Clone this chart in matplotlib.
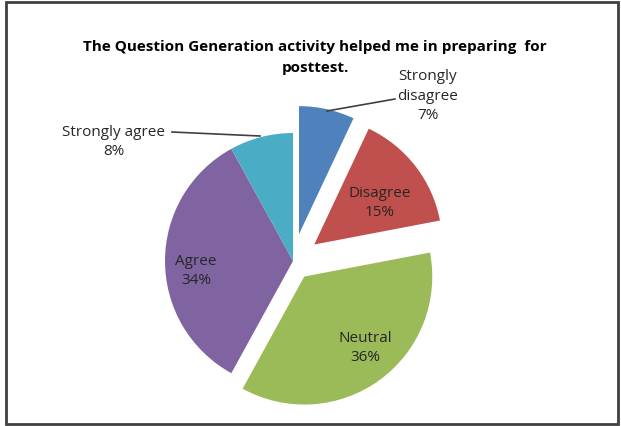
import matplotlib
matplotlib.use("Agg")
import matplotlib.pyplot as plt
from matplotlib.patches import Rectangle

plt.rcParams['font.family'] = ['Open Sans', 'DejaVu Sans']

# Respuestas de la encuesta (porcentajes)
categories = ["Strongly disagree", "Disagree", "Neutral", "Agree", "Strongly agree"]
shares = [7, 15, 36, 34, 8]
colors = ["#4F81BD", "#C0504D", "#9BBB59", "#8064A2", "#4BACC6"]
explode = [0.215, 0.21, 0.15, 0, 0]

title_lines = ["The Question Generation activity helped me in preparing  for", "posttest."]

W, H = 621, 427
fig = plt.figure(figsize=(W / 100, H / 100), dpi=100)
ax = fig.add_axes([0, 0, 1, 1])

# Pastel en coordenadas de pixel (y hacia arriba); explode va en unidades absolutas
cx, cy, r = 293, H - 262, 128
wedges, _ = ax.pie(shares, colors=colors, explode=[e * r for e in explode],
                   startangle=90, counterclock=False, center=(cx, cy), radius=r,
                   wedgeprops=dict(linewidth=0))
ax.set_xlim(0, W)
ax.set_ylim(0, H)
ax.set_aspect('equal')
ax.axis('off')

txt = dict(ha='center', va='center', fontsize=11, color='#262626', linespacing=1.45)

# Etiquetas dentro de las rebanadas
inner = {1: (380, 203), 2: (365, 348), 3: (196, 271)}
for i, (x, y) in inner.items():
    ax.text(x, H - y, f"{categories[i]}\n{shares[i]}%", **txt)

# Etiquetas exteriores con línea guía
ax.text(428, H - 96, f"Strongly\ndisagree\n{shares[0]}%", **txt)
ax.plot([327, 395], [H - 112, H - 100], color='#404040', lw=1.2)

ax.text(114, H - 142, f"{categories[4]}\n{shares[4]}%", **txt)
ax.plot([172, 260], [H - 133, H - 137], color='#404040', lw=1.2)

# Título en dos renglones separados
for line, y in zip(title_lines, [47, 68]):
    ax.text(315, H - y, line, ha='center', va='center', fontsize=11,
            fontweight='bold', color='black')

# Marco exterior
fig.patches.append(Rectangle((6, 2), W - 9, H - 5, transform=None, fill=False,
                             edgecolor='#404040', linewidth=2))

fig.savefig("out.png", dpi=100)
